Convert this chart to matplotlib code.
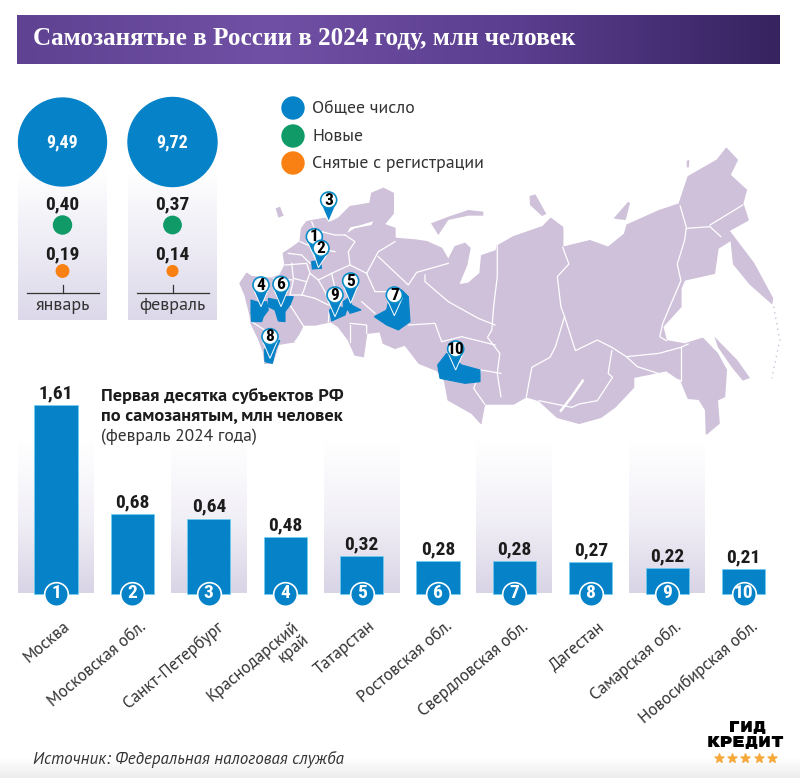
import matplotlib
matplotlib.use('Agg')
import matplotlib.pyplot as plt
import numpy as np
from matplotlib.colors import LinearSegmentedColormap
from matplotlib.patches import Circle, Polygon

NARROW = ['Roboto Condensed', 'Liberation Sans']
PLAIN = ['PT Sans', 'Open Sans']
plt.rcParams['font.family'] = NARROW

# chart data
regions = ['Москва', 'Московская обл.', 'Санкт-Петербург', 'Краснодарский\nкрай', 'Татарстан',
           'Ростовская обл.', 'Свердловская обл.', 'Дагестан', 'Самарская обл.', 'Новосибирская обл.']
region_values = [1.61, 0.68, 0.64, 0.48, 0.32, 0.28, 0.28, 0.27, 0.22, 0.21]
months = ['январь', 'февраль']
total_values = [9.49, 9.72]
new_values = [0.40, 0.37]
removed_values = [0.19, 0.14]
legend_labels = ['Общее число', 'Новые', 'Снятые с регистрации']

BLUE = '#0582c8'
GREEN = '#0f9a68'
ORANGE = '#f98012'
MAP = '#cfc1da'
DARK = '#1c1c1c'

# map shapes, west part and east part come from two crops
russia_west = [(90,535),(85,500),(70,460),(48,415),(45,390),(30,330),(15,295),(35,265),(50,275),(110,280),(135,270),(150,240),
               (145,205),(175,185),(195,170),(200,130),(215,110),(240,105),(270,100),(285,112),(310,100),(345,65),(405,55),
               (410,25),(445,10),(475,25),(475,85),(450,115),(420,105),(370,120),(345,125),(330,150),(360,132),(410,122),
               (418,108),(480,130),(480,160),(540,165),(575,170),(620,190),(640,225),(660,185),(690,175),(705,190),(695,240),
               (670,300),(700,295),(735,265),(740,212)]
russia_east = [(732,332),(735,318),(780,290),(860,260),(882,235),(915,262),(915,322),(990,302),(1040,322),(1085,282),(1092,255),
               (1180,212),(1235,192),(1260,110),(1340,60),(1365,25),(1395,60),(1375,105),(1420,150),(1410,190),(1425,240),
               (1372,272),(1440,370),(1492,475),(1490,490),(1430,432),(1385,372),(1378,300),(1342,325),(1332,400),(1250,420),
               (1240,445),(1240,500),(1190,560),(1200,602),(1250,612),(1300,595),(1340,640),(1365,690),(1360,770),(1340,780),
               (1345,850),(1310,882),(1308,810),(1290,778),(1260,775),(1240,722),(1200,692),(1110,712),(1110,742),(1060,800),
               (1020,832),(960,850),(900,832),(850,782),(815,770),(780,792),(700,792),(690,850),(665,820),(600,780),(590,722),
               (570,692)]
russia_south = [(552,535),(510,480),(480,490),(445,475),(435,440),(395,445),(385,515),(360,510),(340,465),(310,425),(288,410),
                (240,420),(205,420),(180,470),(130,478),(135,465),(112,535)]
islands_west = [[(122,70),(135,65),(146,92),(130,98)],
                [(588,115),(640,95),(700,75),(745,80),(745,92),(700,92),(640,105),(610,150)]]
islands_east = [[(824,168),(840,163),(870,222),(858,228),(825,195)],
                [(1055,235),(1095,185),(1100,190),(1088,240),(1068,238)],
                [(1256,62),(1263,60),(1262,82),(1256,82)],
                [(1332,590),(1395,660),(1430,714),(1410,722),(1380,682),(1342,622)]]
borders_east = [[(735,318),(735,410),(725,500),(720,570),(708,592),(742,640),(735,700),(745,770)],
                [(915,322),(932,372),(900,410),(910,500),(920,530),(950,632),(1010,600),(1050,622),(1090,650),(1180,640),(1240,622),(1260,612)],
                [(920,530),(895,620),(880,652),(830,682),(815,770)],
                [(1238,198),(1255,262),(1250,302),(1230,372),(1240,422),(1190,550),(1182,590),(1200,602)],
                [(1255,265),(1320,260),(1350,290)],[(1320,255),(1410,195)],
                [(1050,632),(1040,700),(1052,712),(1010,782),(960,792),(940,802),(850,782)],
                [(1090,650),(1120,680),(1240,722)],[(1240,622),(1240,722)],
                [(745,700),(690,690),(670,745),(700,792)]]
borders_west = [[(150,240),(215,235),(225,265),(250,285),(290,265),(345,240),(395,265)],
                [(160,205),(200,210),(225,235)],[(170,235),(175,280),(215,290),(225,265)],
                [(115,280),(175,285),(165,330),(200,330)],[(200,330),(240,340),(280,360)],
                [(215,290),(205,320),(200,330)],[(250,285),(270,320),(285,360)],[(290,265),(300,310)],
                [(345,240),(340,200),(360,170),(330,150)],[(395,265),(430,200),(480,170)],
                [(395,265),(420,320),(460,320)],[(430,215),(520,300),(545,262),(640,235)],
                [(570,270),(570,290),(640,350),(730,400),(780,420)],[(520,420),(600,415),(620,470),(680,455),(780,480)],
                [(380,350),(420,385)],[(165,360),(210,430),(180,470)],[(345,420),(345,470)],
                [(345,415),(395,420),(395,445)],[(283,375),(280,410)],[(230,110),(240,135),(300,150),(330,150)],
                [(195,170),(230,185),(300,200)],[(50,410),(135,465)]]
baikal = [(970,722),(940,770),(910,812)]
kurils = [(1495,500),(1512,600),(1490,715)]
highlighted = [[(48,345),(70,352),(95,350),(100,375),(85,395),(80,410),(50,410),(48,385)],
               [(100,340),(125,345),(150,335),(175,335),(165,360),(150,380),(150,410),(130,408),(120,375),(100,365)],
               [(88,495),(105,470),(135,465),(122,495),(112,535),(90,530)],
               [(230,230),(255,225),(260,250),(232,252)],
               [(325,350),(345,335),(350,360),(378,375),(345,385),(340,375),(325,375)],
               [(283,375),(305,360),(335,375),(330,390),(290,408)],
               [(418,395),(455,375),(465,330),(500,315),(520,335),(525,410),(490,435),(455,420)],
               [(608,540),(635,505),(680,540),(735,555),(735,590),(690,595),(640,585),(615,580)]]
# pin head centre and tip
pins = [(238,155,240,220,'1'),(258,190,250,248,'2'),(281,45,281,110,'3'),(78,300,78,365,'4'),(347,288,347,355,'5'),
        (138,298,138,365,'6'),(478,330,478,392,'7'),(105,455,105,520,'8'),(300,330,300,395,'9'),(662,492,662,555,'10')]


def east_px(pts):
    return [(230 + x / 2.75, 140 + y / 3) for x, y in pts]


def west_px(pts):
    return [(235 + x / 3, 185 + y / 3) for x, y in pts]


def gradient(axis, extent, colors, horizontal=False):
    cmap = LinearSegmentedColormap.from_list('g', colors)
    ramp = np.linspace(0, 1, 256)
    ramp = ramp.reshape(1, -1) if horizontal else ramp.reshape(-1, 1)
    axis.imshow(ramp, cmap=cmap, extent=extent, origin='upper', aspect='auto', zorder=0)


fig = plt.figure(figsize=(8, 7.78), dpi=100)
ax = fig.add_axes([0, 0, 1, 1])

# title band and footer
gradient(ax, [17, 780, 64, 15], ['#5f4292', '#7050a4', '#5a3d8e', '#36235f'], horizontal=True)
gradient(ax, [0, 800, 778, 758], ['#ffffff', '#ececec'])
ax.text(33, 38, 'Самозанятые в России в 2024 году, млн человек', color='white', fontsize=18.1,
        family='Liberation Serif', weight='bold', va='center')

# month panels, circle area follows the value
k = 44.5 / np.sqrt(9.72)
for i, month in enumerate(months):
    cx = [62.5, 172.5][i]
    gradient(ax, [cx - 44.5, cx + 44.5, 320, 170], ['#ffffff', '#dcd8ea'])
    ax.add_patch(Circle((cx, 142), k * np.sqrt(total_values[i]), color=BLUE, zorder=2))
    ax.text(cx, 142, f'{total_values[i]:.2f}'.replace('.', ','), color='white', fontsize=13, weight='bold',
            ha='center', va='center', zorder=3)
    ax.text(cx, 204, f'{new_values[i]:.2f}'.replace('.', ','), color=DARK, fontsize=14, weight='bold',
            ha='center', va='center')
    ax.add_patch(Circle((cx, 225), k * np.sqrt(new_values[i]), color=GREEN, zorder=2))
    ax.text(cx, 254, f'{removed_values[i]:.2f}'.replace('.', ','), color=DARK, fontsize=14, weight='bold',
            ha='center', va='center')
    ax.add_patch(Circle((cx, 271), k * np.sqrt(removed_values[i]), color=ORANGE, zorder=2))
    ax.plot([cx - 36, cx + 36], [292.5, 292.5], color='#333333', lw=0.9)
    ax.plot([cx, cx], [285, 292.5], color='#333333', lw=0.9)
    ax.text(cx, 306, month, color='#333333', fontsize=13, family=PLAIN, ha='center', va='center')

# legend
for y, col, lab in zip([108, 136, 163], [BLUE, GREEN, ORANGE], legend_labels):
    ax.add_patch(Circle((293, y), 11, color=col, zorder=2))
    ax.text(312, y + 1, lab, color='#333333', fontsize=12.8, family=PLAIN, va='center')

# map
outline = west_px(russia_west) + east_px(russia_east) + west_px(russia_south)
ax.add_patch(Polygon(outline, closed=True, fc=MAP, ec=MAP, lw=1, joinstyle='round', zorder=1))
for shape in islands_west:
    ax.add_patch(Polygon(west_px(shape), closed=True, fc=MAP, ec='none', zorder=1))
for shape in islands_east:
    ax.add_patch(Polygon(east_px(shape), closed=True, fc=MAP, ec='none', zorder=1))
for pts in [west_px(b) for b in borders_west] + [east_px(b) for b in borders_east]:
    ax.plot([p[0] for p in pts], [p[1] for p in pts], color='white', lw=0.9, zorder=2)
pts = east_px(baikal)
ax.plot([p[0] for p in pts], [p[1] for p in pts], color='white', lw=1.8, zorder=2)
pts = east_px(kurils)
ax.plot([p[0] for p in pts], [p[1] for p in pts], color='#cfc1da', lw=1, ls=(0, (1, 3)), zorder=1)
for shape in highlighted:
    ax.add_patch(Polygon(west_px(shape), closed=True, fc=BLUE, ec=BLUE, lw=0.8, zorder=3))
for hx, hy, tx, ty, num in pins:
    (px, py), (qx, qy) = west_px([(hx, hy), (tx, ty)])
    ax.add_patch(Polygon([(px - 8, py + 3), (qx, qy), (px + 8, py + 3)], closed=True, fc=BLUE, ec='white', lw=0.7, zorder=4))
    ax.add_patch(Circle((px, py), 8, fc='white', ec='#0a8cc8', lw=1.2, zorder=5))
    ax.text(px, py, num, color='black', fontsize=12.5, weight='bold', ha='center', va='center', zorder=6)

# source and logo
ax.text(33, 760, 'Источник: Федеральная налоговая служба', color='#333333', fontsize=12.25, family=PLAIN,
        style='italic', va='center')
logo_font = ['Rubik Mono One', 'Russo One', 'DejaVu Sans']
ax.text(746, 727, 'ГИД', color='black', fontsize=11, family=logo_font, weight='bold', ha='center', va='center')
ax.text(746, 742, 'КРЕДИТ', color='black', fontsize=11, family=logo_font, weight='bold', ha='center', va='center')
ax.scatter([719, 732, 745, 759, 772], [758] * 5, marker='*', s=45, color='#f7a83a', zorder=3)

ax.set_xlim(0, 800)
ax.set_ylim(778, 0)
ax.axis('off')

# bar chart on its own value scale, laid over the same canvas
bx = fig.add_axes([0, 0, 1, 1], facecolor='none')
x = np.arange(len(regions))
for i in x[::2]:
    gradient(bx, [i - 0.497, i + 0.497, 0, 1.3], ['#ffffff', '#f2f0f7', '#d9d4e6'])
bx.bar(x, region_values, width=0.565, color=BLUE, edgecolor='#6fd0f0', linewidth=0.5, zorder=2)
bx.scatter(x, [0] * len(x), s=290, color=BLUE, edgecolor='white', linewidth=1.2, zorder=3)
for i, val in enumerate(region_values):
    bx.annotate(f'{val:.2f}'.replace('.', ','), (i, val), xytext=(0, 2), textcoords='offset points',
                ha='center', va='bottom', fontsize=14, weight='bold', color=DARK)
    bx.text(i, 0, str(i + 1), color='white', fontsize=14, weight='bold', ha='center', va='center', zorder=4)
    bx.annotate(regions[i], (i, 0), xytext=(5, -18), textcoords='offset points', ha='right', va='top',
                rotation=40, rotation_mode='anchor', fontsize=12.2, family=PLAIN, color='#333333',
                linespacing=0.95)

# second heading, over the bands
bx.text(101, 396, 'Первая десятка субъектов РФ', color=DARK, fontsize=13.2, family=PLAIN, weight='bold', va='center',
        transform=ax.transData, zorder=5)
bx.text(101, 416, 'по самозанятым, млн человек', color=DARK, fontsize=13.2, family=PLAIN, weight='bold', va='center',
        transform=ax.transData, zorder=5)
bx.text(101, 437, '(февраль 2024 года)', color='#333333', fontsize=12.6, family=PLAIN, va='center',
        transform=ax.transData, zorder=5)

bx.set_xlim(-56 / 76.4, (800 - 56) / 76.4)
bx.set_ylim((593.5 - 778) / 117, 593.5 / 117)
bx.axis('off')

plt.savefig('out.png', dpi=100)
